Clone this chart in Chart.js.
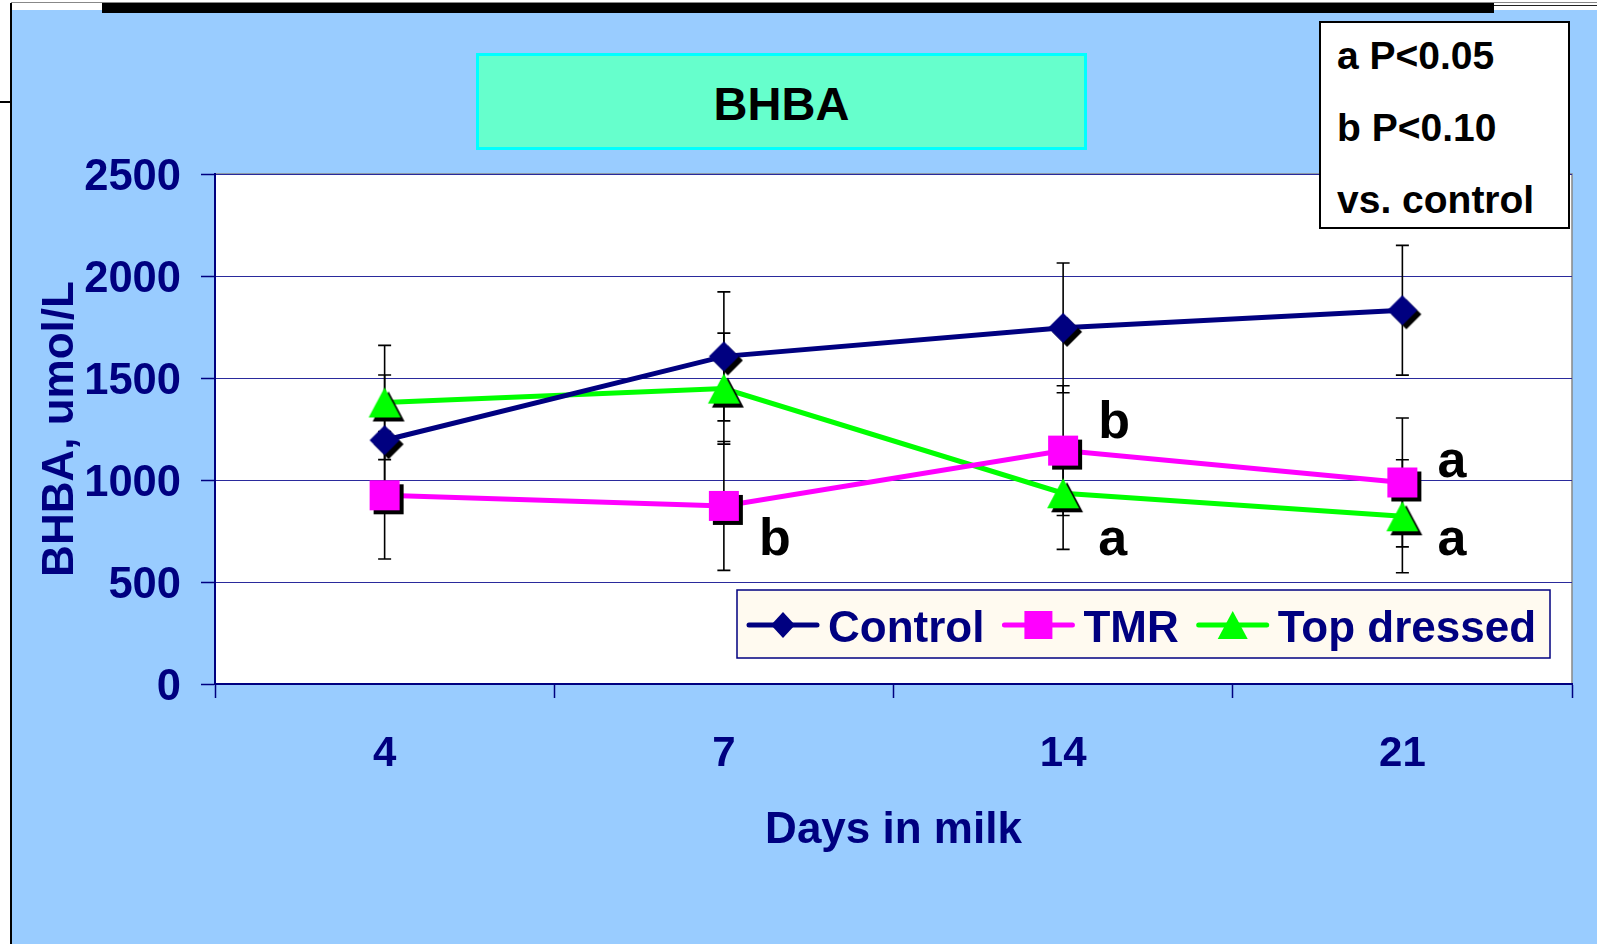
<!DOCTYPE html>
<html lang="en">
<head>
  <meta charset="UTF-8">
  <title>BHBA</title>
  <script src="https://cdn.jsdelivr.net/npm/chart.js"></script>
  <style>
    body { margin: 0; width: 1597px; height: 944px; background: #fff; position: relative; overflow: hidden;
           font-family: "Liberation Sans", Arial, sans-serif; }
    .panel { position: absolute; left: 12px; top: 10px; right: 0; bottom: 0; background: #99ccff; }
    .edge-left { position: absolute; left: 10px; top: 3px; width: 2px; bottom: 0; background: #000; }
    .edge-tick { position: absolute; left: 0; top: 101px; width: 11px; height: 2px; background: #000; }
    .edge-top { position: absolute; left: 11px; right: 0; top: 2px; height: 1px; background: #888; }
    .edge-top2 { position: absolute; left: 1494px; right: 0; top: 5px; height: 1px; background: #222; }
    .topbar { position: absolute; left: 102px; width: 1392px; top: 3px; height: 10px; background: #000; z-index: 3; }
    #chart { position: absolute; left: 0; top: 0; z-index: 1; }
    .title-box { position: absolute; left: 476px; top: 53px; width: 605px; height: 91px; background: #66ffcc;
                 border: 3px solid #00ffff; z-index: 2; text-align: center; line-height: 96px;
                 font-weight: bold; font-size: 47px; color: #000; }
    .note { position: absolute; left: 1319px; top: 21px; width: 247px; height: 204px; background: #fff;
            border: 2px solid #000; z-index: 2; font-weight: bold; font-size: 39px; color: #000; }
    .note div { height: 72px; line-height: 72px; padding-left: 16px; position: relative; top: -3px; }
  </style>
</head>
<body>
  <div class="panel"></div>
  <div class="edge-top"></div>
  <div class="edge-top2"></div>
  <div class="edge-left"></div>
  <div class="edge-tick"></div>
  <div class="topbar"></div>
  <canvas id="chart" width="1597" height="944"></canvas>
  <div class="title-box">BHBA</div>
  <div class="note">
    <div>a P&lt;0.05</div>
    <div>b P&lt;0.10</div>
    <div>vs. control</div>
  </div>

  <script>
    // days in milk
    const days = ['4', '7', '14', '21'];

    // BHBA, umol/L (mean and SE)
    const control = [1195, 1606, 1746, 1832];
    const controlSE = [320, 316, 318, 318];
    const tmr = [925, 873, 1144, 988];
    const tmrSE = [312, 316, 318, 316];
    const topDressed = [1380, 1448, 935, 822];
    const topDressedSE = [280, 272, 275, 277];

    // significance letters vs. control
    const tmrLetters = ['', 'b', 'b', 'a'];
    const topDressedLetters = ['', '', 'a', 'a'];

    const yTicks = [0, 500, 1000, 1500, 2000, 2500];

    // letter placement next to the point (px)
    const letterGap = 35;
    const tmrLetterDy = [0, 49, -13, -5];
    const topDressedLetterDy = [0, 0, 62, 39];

    const NAVY = '#000080';
    const FONT = '"Liberation Sans", Arial, sans-serif';

    function shapePath(g, shape, cx, cy, hw, hh) {
      g.beginPath();
      if (shape === 'diamond') {
        g.moveTo(cx, cy - hh); g.lineTo(cx + hw, cy); g.lineTo(cx, cy + hh); g.lineTo(cx - hw, cy);
      } else if (shape === 'square') {
        g.rect(cx - hw, cy - hh, hw * 2, hh * 2);
      } else {
        g.moveTo(cx, cy - hh); g.lineTo(cx + hw, cy + hh); g.lineTo(cx - hw, cy + hh);
      }
      g.closePath();
    }

    function markerImage(shape, color, hw, hh) {
      const c = document.createElement('canvas');
      c.width = Math.ceil(hw * 2 + 12);
      c.height = Math.ceil(hh * 2 + 12);
      const g = c.getContext('2d');
      const cx = c.width / 2, cy = c.height / 2;
      shapePath(g, shape, cx + 4, cy + 4, hw, hh);
      g.fillStyle = '#000';
      g.fill();
      shapePath(g, shape, cx, cy, hw, hh);
      g.fillStyle = color;
      g.fill();
      return c;
    }

    const series = [
      { label: 'Control', data: control, se: controlSE, color: NAVY, shape: 'diamond', hw: 15, hh: 15, lhw: 12, lhh: 13 },
      { label: 'TMR', data: tmr, se: tmrSE, color: '#ff00ff', shape: 'square', hw: 15, hh: 15, lhw: 14, lhh: 14 },
      { label: 'Top dressed', data: topDressed, se: topDressedSE, color: '#00ff00', shape: 'triangle', hw: 16, hh: 15, lhw: 15, lhh: 14 }
    ];

    const errorBars = {
      id: 'errorBars',
      beforeDatasetsDraw(chart) {
        const ctx = chart.ctx;
        const y = chart.scales.y;
        ctx.save();
        ctx.strokeStyle = '#000';
        ctx.lineWidth = 1.6;
        series.forEach((s, di) => {
          const meta = chart.getDatasetMeta(di);
          meta.data.forEach((pt, i) => {
            const top = y.getPixelForValue(s.data[i] + s.se[i]);
            const bot = y.getPixelForValue(s.data[i] - s.se[i]);
            ctx.beginPath();
            ctx.moveTo(pt.x, top); ctx.lineTo(pt.x, bot);
            ctx.moveTo(pt.x - 6.5, top); ctx.lineTo(pt.x + 6.5, top);
            ctx.moveTo(pt.x - 6.5, bot); ctx.lineTo(pt.x + 6.5, bot);
            ctx.stroke();
          });
        });
        ctx.restore();
      }
    };

    const plotFrame = {
      id: 'plotFrame',
      beforeDraw(chart) {
        const { ctx, chartArea: a } = chart;
        ctx.save();
        ctx.fillStyle = '#fff';
        ctx.fillRect(a.left, a.top, a.right - a.left, a.bottom - a.top);
        ctx.strokeStyle = '#888';
        ctx.lineWidth = 1.5;
        ctx.beginPath();
        ctx.moveTo(a.left, a.top); ctx.lineTo(a.right, a.top); ctx.lineTo(a.right, a.bottom);
        ctx.stroke();
        ctx.restore();
      }
    };

    const letters = {
      id: 'letters',
      afterDatasetsDraw(chart) {
        const ctx = chart.ctx;
        ctx.save();
        ctx.fillStyle = '#000';
        ctx.font = 'bold 52px ' + FONT;
        ctx.textAlign = 'left';
        ctx.textBaseline = 'alphabetic';
        [[1, tmrLetters, tmrLetterDy], [2, topDressedLetters, topDressedLetterDy]].forEach(([di, marks, dy]) => {
          const meta = chart.getDatasetMeta(di);
          marks.forEach((m, i) => {
            if (!m) return;
            const pt = meta.data[i];
            ctx.fillText(m, pt.x + letterGap, pt.y + dy[i]);
          });
        });
        ctx.restore();
      }
    };

    const boxLegend = {
      id: 'boxLegend',
      afterDraw(chart) {
        const ctx = chart.ctx;
        const bx = 737, by = 590, bw = 813, bh = 68;
        ctx.save();
        ctx.fillStyle = '#fffaf0';
        ctx.fillRect(bx, by, bw, bh);
        ctx.strokeStyle = NAVY;
        ctx.lineWidth = 1.5;
        ctx.strokeRect(bx, by, bw, bh);
        ctx.font = 'bold 44px ' + FONT;
        ctx.textBaseline = 'alphabetic';
        let x = 749;
        const cy = 625;
        series.forEach(s => {
          ctx.strokeStyle = s.color;
          ctx.lineWidth = 5;
          ctx.lineCap = 'round';
          ctx.beginPath();
          ctx.moveTo(x, cy); ctx.lineTo(x + 68, cy);
          ctx.stroke();
          shapePath(ctx, s.shape, x + 34, cy, s.lhw, s.lhh);
          ctx.fillStyle = s.color;
          ctx.fill();
          x += 79;
          ctx.fillStyle = NAVY;
          ctx.fillText(s.label, x, 642);
          x += ctx.measureText(s.label).width + 20;
        });
        ctx.restore();
      }
    };

    const xTickFont = { family: FONT, size: 42, weight: 'bold', lineHeight: 1.2 };
    const yTickFont = { family: FONT, size: 43.5, weight: 'bold', lineHeight: 1.2 };
    const titleFont = { family: FONT, size: 44, weight: 'bold', lineHeight: 1.2 };

    new Chart(document.getElementById('chart'), {
      type: 'line',
      data: {
        labels: days,
        datasets: series.map(s => ({
          label: s.label,
          data: s.data,
          borderColor: s.color,
          backgroundColor: s.color,
          borderWidth: 5,
          pointStyle: markerImage(s.shape, s.color, s.hw, s.hh),
          pointRadius: 15,
          tension: 0,
          fill: false
        }))
      },
      options: {
        responsive: false,
        animation: false,
        events: [],
        layout: { padding: { left: 0, top: 174, right: 25, bottom: 0 } },
        plugins: { legend: { display: false }, tooltip: { enabled: false } },
        scales: {
          x: {
            offset: true,
            afterFit(scale) { scale.height = 260; },
            grid: { display: true, offset: true, drawOnChartArea: false, tickLength: 14, tickColor: NAVY, tickWidth: 1.5 },
            border: { color: NAVY, width: 2 },
            ticks: { color: NAVY, font: xTickFont, padding: 31, maxRotation: 0 },
            title: { display: true, text: 'Days in milk', color: NAVY, font: titleFont, padding: { top: 0, bottom: 87 } }
          },
          y: {
            min: 0,
            max: 2500,
            afterFit(scale) { scale.width = 215; },
            afterBuildTicks(scale) { scale.ticks = yTicks.map(v => ({ value: v })); },
            grid: { color: '#2a2a9c', lineWidth: 1, tickLength: 14, tickColor: NAVY, tickWidth: 1.5 },
            border: { color: NAVY, width: 2 },
            ticks: { color: NAVY, font: yTickFont, padding: 20, labelOffset: 4, callback: v => String(v) },
            title: { display: true, text: 'BHBA, umol/L', color: NAVY, font: titleFont, padding: { top: 34, bottom: 0 } }
          }
        }
      },
      plugins: [plotFrame, errorBars, letters, boxLegend]
    });
  </script>
</body>
</html>
